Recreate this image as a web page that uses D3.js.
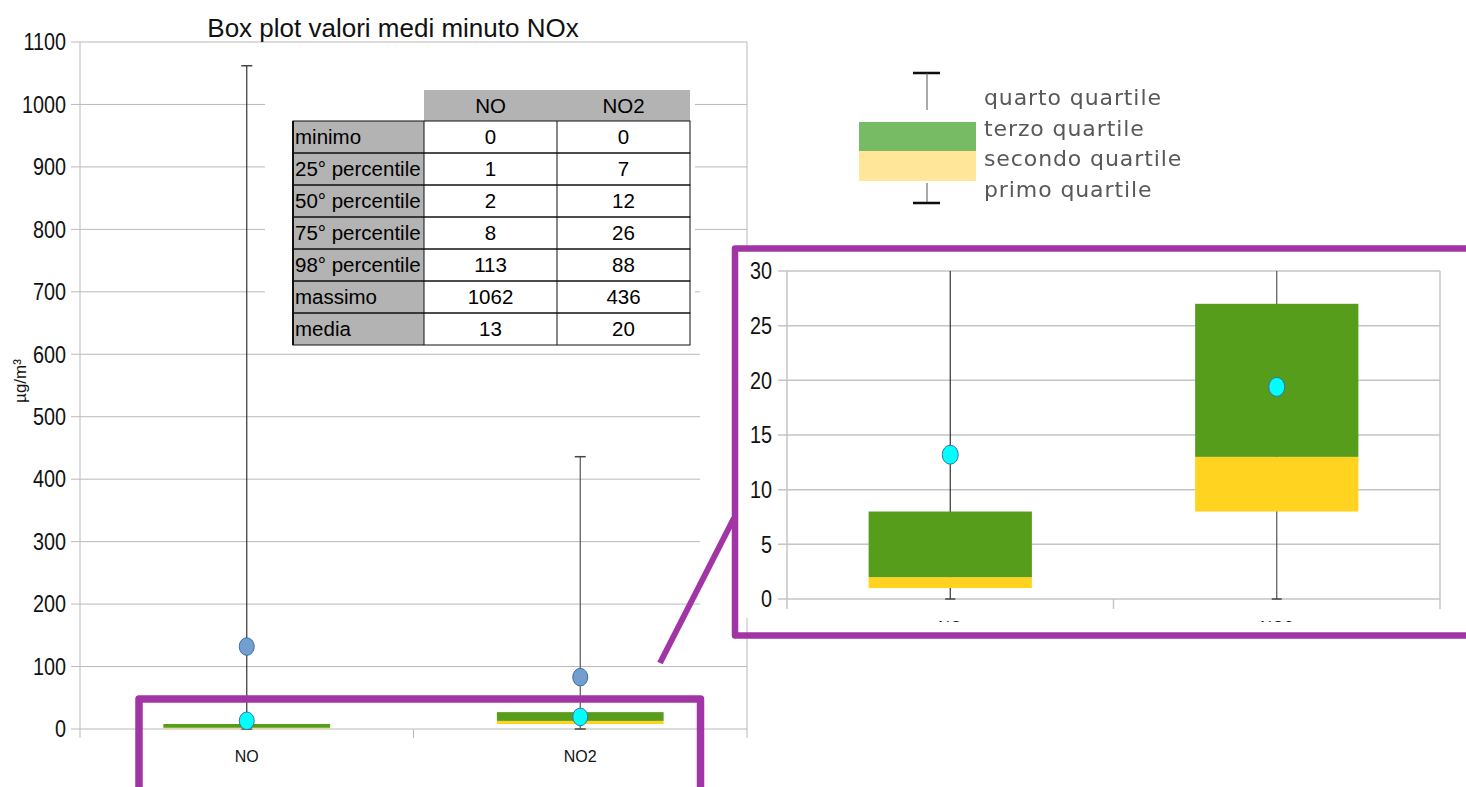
<!DOCTYPE html>
<html>
	<head>
		<meta charset="utf-8">
		<style>
			body { margin: 0; background: #ffffff; }
			svg text { font-family: "Liberation Sans", Arial, sans-serif; }
		</style>
	</head>
	<body>
		<script src="https://d3js.org/d3.v7.min.js"></script>

		<div id="canvas"></div>

		<script>
				var width = 1466;
				var height = 787;

				var categories = ["NO", "NO2"];
				var whisker_low = [0, 0];
				var box_q1 = [1, 8];
				var box_median = [2, 13];
				var box_q3 = [8, 27];
				var whisker_high = [1062, 436];
				var mean_dots = [13.2, 19.4];
				var upper_dots = [132, 83];

				var main_ticks = [0, 100, 200, 300, 400, 500, 600, 700, 800, 900, 1000, 1100];
				var inset_ticks = [0, 5, 10, 15, 20, 25, 30];

				var table_columns = ["NO", "NO2"];
				var table_rows = ["minimo", "25° percentile", "50° percentile", "75° percentile", "98° percentile", "massimo", "media"];
				var table_no = [0, 1, 2, 8, 113, 1062, 13];
				var table_no2 = [0, 7, 12, 26, 88, 436, 20];

				var legend_labels = ["quarto quartile", "terzo quartile", "secondo quartile", "primo quartile"];

				var green = "#579d1c";
				var yellow = "#ffd320";
				var purple = "#a235a5";
				var grid_color = "#b9b9b9";

				var boxes = categories.map(function (c, i) {
					return { cat: c, low: whisker_low[i], q1: box_q1[i], med: box_median[i], q3: box_q3[i], high: whisker_high[i], mean: mean_dots[i], upper: upper_dots[i] };
				});

				var canvas_svg = d3.select("#canvas")
					.append("svg")
					.attr("width", width)
					.attr("height", height)
					.attr("id", "canvas_svg");

				var defs = canvas_svg.append("defs");
				defs.append("filter").attr("id", "soft")
					.append("feGaussianBlur").attr("stdDeviation", 0.6);
				defs.append("clipPath").attr("id", "inset_clip")
					.append("rect").attr("x", 738).attr("y", 252).attr("width", 728).attr("height", 370);
				defs.append("clipPath").attr("id", "inset_plot_clip")
					.append("rect").attr("x", 760).attr("y", 271).attr("width", 700).attr("height", 345);

				// narrow tick labels, like the original chart font
				function tickLabels (group, ticks, x, y) {
					group.append("g")
						.selectAll("text")
						.data(ticks)
						.enter()
						.append("text")
						.attr("transform", function (d) { return "translate(" + x + "," + y(d) + ") scale(0.86,1)"; })
						.attr("dy", "0.36em")
						.attr("text-anchor", "end")
						.style("font-size", "23px")
						.style("fill", "#111")
						.text(function (d) { return d; });
				}

				// ---------- main chart ----------
				var x_main = d3.scaleBand().domain(categories).range([80, 747]);
				var y_main = d3.scaleLinear().domain([0, 1100]).range([729, 42]);

				var main_group = canvas_svg.append("g").attr("id", "main_group");

				main_group.append("g")
					.attr("class", "grid")
					.selectAll("line")
					.data(main_ticks)
					.enter()
					.append("line")
					.attr("x1", 71)
					.attr("x2", 747)
					.attr("y1", function (d) { return y_main(d); })
					.attr("y2", function (d) { return y_main(d); })
					.style("stroke", grid_color)
					.style("stroke-width", 1);

				tickLabels(main_group, main_ticks, 66, y_main);

				// plot frame
				main_group.append("line").attr("x1", 80).attr("x2", 80).attr("y1", 42).attr("y2", 738).style("stroke", grid_color);
				main_group.append("line").attr("x1", 747).attr("x2", 747).attr("y1", 42).attr("y2", 738).style("stroke", grid_color);
				main_group.append("line").attr("x1", x_main("NO2")).attr("x2", x_main("NO2")).attr("y1", 729).attr("y2", 738).style("stroke", grid_color);

				// white backgrounds of the pasted table and zoom picture
				main_group.append("rect").attr("x", 265).attr("y", 86).attr("width", 430).attr("height", 262).style("fill", "#fff");
				canvas_svg.append("rect").attr("x", 700).attr("y", 252).attr("width", 766).attr("height", 366).style("fill", "#fff");

				main_group.selectAll(".x_label")
					.data(categories)
					.enter()
					.append("text")
					.attr("class", "x_label")
					.attr("x", function (d) { return x_main(d) + x_main.bandwidth() / 2; })
					.attr("y", 762)
					.attr("text-anchor", "middle")
					.style("font-size", "16px")
					.style("fill", "#111")
					.text(function (d) { return d; });

				main_group.append("text")
					.attr("transform", "translate(26,381) rotate(-90)")
					.attr("text-anchor", "middle")
					.style("font-size", "17px")
					.style("fill", "#111")
					.text("µg/m³");

				main_group.append("text")
					.attr("x", 393)
					.attr("y", 37)
					.attr("text-anchor", "middle")
					.style("font-size", "26px")
					.style("fill", "#111")
					.text("Box plot valori medi minuto NOx");

				function drawBoxes (group, x, y, dots, rx, ry, cap) {
					var bw = x.bandwidth() / 2;
					var g = group.selectAll(".box")
						.data(boxes)
						.enter()
						.append("g")
						.attr("class", "box");

					g.append("line")
						.attr("x1", function (d) { return x(d.cat) + x.bandwidth() / 2; })
						.attr("x2", function (d) { return x(d.cat) + x.bandwidth() / 2; })
						.attr("y1", function (d) { return y(d.low); })
						.attr("y2", function (d) { return y(d.high); })
						.style("stroke", function (d, i) { return i == 0 ? "#333" : "#555"; })
						.style("stroke-width", 1.2);

					[function (d) { return d.low; }, function (d) { return d.high; }].forEach(function (f) {
						g.append("line")
							.attr("x1", function (d) { return x(d.cat) + x.bandwidth() / 2 - cap; })
							.attr("x2", function (d) { return x(d.cat) + x.bandwidth() / 2 + cap; })
							.attr("y1", function (d) { return y(f(d)); })
							.attr("y2", function (d) { return y(f(d)); })
							.style("stroke", "#444")
							.style("stroke-width", 1.5);
					});

					g.append("rect")
						.attr("x", function (d) { return x(d.cat) + bw / 2; })
						.attr("width", bw)
						.attr("y", function (d) { return y(d.med); })
						.attr("height", function (d) { return y(d.q1) - y(d.med); })
						.style("fill", yellow);

					g.append("rect")
						.attr("x", function (d) { return x(d.cat) + bw / 2; })
						.attr("width", bw)
						.attr("y", function (d) { return y(d.q3); })
						.attr("height", function (d) { return y(d.med) - y(d.q3); })
						.style("fill", green);

					dots.forEach(function (dot) {
						g.append("ellipse")
							.attr("cx", function (d) { return x(d.cat) + x.bandwidth() / 2; })
							.attr("cy", function (d) { return y(d[dot.key]); })
							.attr("rx", rx)
							.attr("ry", ry)
							.style("fill", dot.fill)
							.style("stroke", "#3c6ea8")
							.style("stroke-width", 1);
					});
				}

				drawBoxes(main_group, x_main, y_main,
					[{ key: "upper", fill: "#729fcf" }, { key: "mean", fill: "#00ffff" }], 7.5, 8.8, 5.5);

				// ---------- table ----------
				var table_group = canvas_svg.append("g").attr("id", "table_group");
				var row_y = d3.scaleBand().domain(table_rows).range([121, 345]);
				var col_x = d3.scaleBand().domain(table_columns).range([424, 690]);

				table_group.selectAll(".head")
					.data(table_columns)
					.enter()
					.append("rect")
					.attr("x", function (d) { return col_x(d); })
					.attr("y", 90)
					.attr("width", col_x.bandwidth())
					.attr("height", 31)
					.style("fill", "#b3b3b3");

				table_group.selectAll(".head_text")
					.data(table_columns)
					.enter()
					.append("text")
					.attr("x", function (d) { return col_x(d) + col_x.bandwidth() / 2; })
					.attr("y", 106)
					.attr("dy", "0.36em")
					.attr("text-anchor", "middle")
					.style("font-size", "20.5px")
					.text(function (d) { return d; });

				table_group.append("rect")
					.attr("x", 293).attr("y", 121).attr("width", 131).attr("height", 224)
					.style("fill", "#b3b3b3");

				var rows = table_group.selectAll(".row")
					.data(table_rows)
					.enter()
					.append("g")
					.attr("class", "row");

				rows.append("rect")
					.attr("x", 293)
					.attr("y", function (d) { return row_y(d); })
					.attr("width", 397)
					.attr("height", row_y.bandwidth())
					.style("fill", "none")
					.style("stroke", "#111")
					.style("stroke-width", 1);

				rows.append("text")
					.attr("x", 295)
					.attr("y", function (d) { return row_y(d) + row_y.bandwidth() / 2; })
					.attr("dy", "0.36em")
					.style("font-size", "20.5px")
					.text(function (d) { return d; });

				rows.append("text")
					.attr("x", col_x("NO") + col_x.bandwidth() / 2)
					.attr("y", function (d) { return row_y(d) + row_y.bandwidth() / 2; })
					.attr("dy", "0.36em")
					.attr("text-anchor", "middle")
					.style("font-size", "20.5px")
					.text(function (d, i) { return table_no[i]; });

				rows.append("text")
					.attr("x", col_x("NO2") + col_x.bandwidth() / 2)
					.attr("y", function (d) { return row_y(d) + row_y.bandwidth() / 2; })
					.attr("dy", "0.36em")
					.attr("text-anchor", "middle")
					.style("font-size", "20.5px")
					.text(function (d, i) { return table_no2[i]; });

				table_group.selectAll(".col_line")
					.data([424, 557])
					.enter()
					.append("line")
					.attr("x1", function (d) { return d; })
					.attr("x2", function (d) { return d; })
					.attr("y1", 121)
					.attr("y2", 345)
					.style("stroke", "#111");

				table_group.append("line")
					.attr("x1", 293).attr("x2", 293).attr("y1", 121).attr("y2", 345)
					.style("stroke", "#111").style("stroke-width", 2);

				// ---------- legend ----------
				var legend_group = canvas_svg.append("g").attr("id", "legend_group").attr("filter", "url(#soft)");
				legend_group.append("line").attr("x1", 913).attr("x2", 940).attr("y1", 73).attr("y2", 73).style("stroke", "#111").style("stroke-width", 2.5);
				legend_group.append("line").attr("x1", 927).attr("x2", 927).attr("y1", 73).attr("y2", 110).style("stroke", "#555");
				legend_group.append("rect").attr("x", 859).attr("y", 122).attr("width", 117).attr("height", 29).style("fill", "#77bb65");
				legend_group.append("rect").attr("x", 859).attr("y", 151).attr("width", 117).attr("height", 30).style("fill", "#ffe699");
				legend_group.append("line").attr("x1", 927).attr("x2", 927).attr("y1", 183).attr("y2", 203).style("stroke", "#555");
				legend_group.append("line").attr("x1", 913).attr("x2", 940).attr("y1", 203).attr("y2", 203).style("stroke", "#111").style("stroke-width", 2.5);

				legend_group.selectAll("text")
					.data(legend_labels)
					.enter()
					.append("text")
					.attr("x", 984)
					.attr("y", function (d, i) { return 97 + i * 30.7; })
					.attr("dy", "0.36em")
					.style("font-family", "'DejaVu Sans', sans-serif")
					.style("font-size", "22px")
					.style("letter-spacing", "0.9px")
					.style("fill", "#585858")
					.text(function (d) { return d; });

				// ---------- inset (zoom) chart ----------
				var x_in = d3.scaleBand().domain(categories).range([787, 1440]);
				var y_in = d3.scaleLinear().domain([0, 30]).range([599, 271]);

				var inset_group = canvas_svg.append("g").attr("id", "inset_group").attr("clip-path", "url(#inset_clip)");

				inset_group.append("g")
					.selectAll("line")
					.data(inset_ticks)
					.enter()
					.append("line")
					.attr("x1", 778)
					.attr("x2", 1440)
					.attr("y1", function (d) { return y_in(d); })
					.attr("y2", function (d) { return y_in(d); })
					.style("stroke", "#c4c4c4")
					.style("stroke-width", 1.5);

				tickLabels(inset_group, inset_ticks, 772, y_in);

				inset_group.append("line").attr("x1", 787).attr("x2", 787).attr("y1", 271).attr("y2", 609).style("stroke", "#c4c4c4").style("stroke-width", 1.5);
				inset_group.append("line").attr("x1", 1440).attr("x2", 1440).attr("y1", 271).attr("y2", 609).style("stroke", "#c4c4c4").style("stroke-width", 1.5);
				inset_group.append("line").attr("x1", x_in("NO2")).attr("x2", x_in("NO2")).attr("y1", 599).attr("y2", 609).style("stroke", "#c4c4c4").style("stroke-width", 1.5);

				inset_group.selectAll(".x_label")
					.data(categories)
					.enter()
					.append("text")
					.attr("class", "x_label")
					.attr("x", function (d) { return x_in(d) + x_in.bandwidth() / 2; })
					.attr("y", 633)
					.attr("text-anchor", "middle")
					.style("font-size", "16px")
					.style("fill", "#111")
					.text(function (d) { return d; });

				var inset_plot = inset_group.append("g").attr("clip-path", "url(#inset_plot_clip)");
				drawBoxes(inset_plot, x_in, y_in, [{ key: "mean", fill: "#00ffff" }], 8, 9.5, 5);

				// ---------- purple highlight ----------
				var mark_group = canvas_svg.append("g")
					.attr("id", "mark_group")
					.style("fill", "none")
					.style("stroke", purple)
					.style("stroke-linejoin", "round");

				mark_group.append("path")
					.attr("d", "M139,800 V699 H700.5 V800")
					.style("stroke-width", 7.5);

				mark_group.append("path")
					.attr("d", "M1480,248.5 H735 V635.5 H1480")
					.style("stroke-width", 6.5);

				mark_group.append("line")
					.attr("x1", 660).attr("y1", 663)
					.attr("x2", 734).attr("y2", 518)
					.style("stroke-width", 6);
		</script>
	</body>
</html>
